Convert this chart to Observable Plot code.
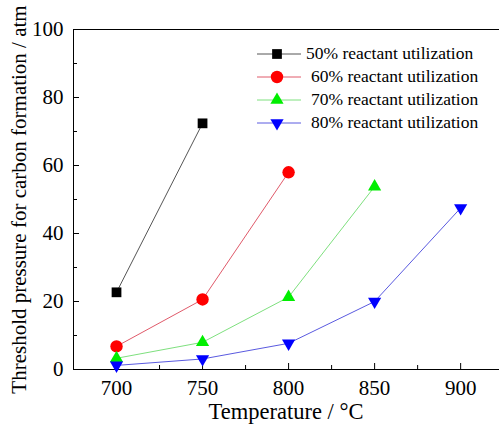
<!DOCTYPE html>
<html><head><meta charset="utf-8">
<script src="https://cdn.jsdelivr.net/npm/d3@7"></script>
<script src="https://cdn.jsdelivr.net/npm/@observablehq/plot@0.6"></script>
<style>
body{margin:0;background:#fff;font-family:'Liberation Serif';}
#wrap{position:relative;width:499px;height:425px;font-family:'Liberation Serif';}
#legend{position:absolute;left:257px;top:42px;font-size:17.5px;line-height:23px;color:#000;font-family:'Liberation Serif';}
#legend div{display:flex;align-items:center;height:23px;}
#legend svg{margin-right:5px;}
</style></head><body>
<div id="wrap"><div id="legend"></div></div>
<script>
const temps = [700, 750, 800, 850, 900];
const seriesNames = ["50% reactant utilization","60% reactant utilization","70% reactant utilization","80% reactant utilization"];
const u50 = [22.7, 72.4];
const u60 = [6.8, 20.6, 58.0];
const u70 = [3.3, 8.0, 21.3, 53.8];
const u80 = [1.2, 3.1, 7.7, 20.0, 47.5];
const markerColors = ["#000000","#ff0000","#00ee00","#0000ff"];
const lineColors = ["#555555","#e05a6a","#7ee07e","#5a5ae0"];
const xMajor = [700, 750, 800, 850, 900];
const xMinor = [675, 725, 775, 825, 875];
const yMajor = [0, 20, 40, 60, 80, 100];
const yMinor = [10, 30, 50, 70, 90];
const FONT = "Liberation Serif";

const triDown = {draw(ctx, size){
  const y = -Math.sqrt(size / (Math.sqrt(3) * 3));
  ctx.moveTo(0, -y * 2);
  ctx.lineTo(Math.sqrt(3) * y, y);
  ctx.lineTo(-Math.sqrt(3) * y, y);
  ctx.closePath();
}};
const symbols = ["square","circle","triangle",triDown];
const sizes = [5.5, 6.2, 4.9, 4.9];

const all = [u50,u60,u70,u80];
const data = all.flatMap((vals, i) => vals.map((v, j) => ({t: temps[j], p: v, s: i})));

const marks = [
  Plot.frame({anchor:"left"}),
  Plot.frame({anchor:"top"}),
  Plot.frame({anchor:"bottom"}),
  Plot.axisX({ticks: xMajor, tickSize: -6, tickPadding: 17, fontSize: 21, fontFamily: FONT, label: null}),
  Plot.axisX({ticks: [], fontSize: 22.5, fontFamily: FONT,
    label: "Temperature / \u00B0C", labelAnchor: "center", labelArrow: "none", labelOffset: 49}),
  Plot.axisX({ticks: xMinor, tickSize: -4, tickFormat: () => "", label: null}),
  Plot.axisY({ticks: yMajor, tickSize: -6, tickPadding: 16, fontSize: 21, fontFamily: FONT,
    label: "Threshold pressure for carbon formation / atm", labelAnchor: "center", labelArrow: "none", labelOffset: 62}),
  Plot.axisY({ticks: yMinor, tickSize: -4, tickFormat: () => "", label: null}),
];
all.forEach((vals, i) => {
  const d = data.filter(r => r.s === i);
  marks.push(Plot.line(d, {x: "t", y: "p", stroke: lineColors[i], strokeWidth: 1}));
});
all.forEach((vals, i) => {
  const d = data.filter(r => r.s === i);
  marks.push(Plot.dot(d, {x: "t", y: "p", symbol: () => symbols[i], r: sizes[i], fill: markerColors[i], stroke: "none"}));
});

const chart = Plot.plot({
  width: 499, height: 425,
  marginLeft: 73, marginRight: 1, marginTop: 29, marginBottom: 56,
  style: {fontFamily: FONT, fontSize: "21px", color: "#000", background: "#fff"},
  x: {domain: [675, 922]},
  y: {domain: [0, 100]},
  symbol: {type: "identity"},
  marks
});
chart.querySelectorAll("text").forEach(t => t.setAttribute("font-family", FONT));
const wrap = document.getElementById("wrap");
wrap.insertBefore(chart, wrap.firstChild);

const legend = document.getElementById("legend");
seriesNames.forEach((name, i) => {
  const row = document.createElement("div");
  const svg = d3.create("svg").attr("width", 44).attr("height", 18);
  svg.append("line").attr("x1", 0).attr("x2", 44).attr("y1", 9).attr("y2", 9).attr("stroke", lineColors[i]).attr("stroke-width", 1);
  const sz = Math.PI * sizes[i] * sizes[i];
  const sym = typeof symbols[i] === "string" ? {square: d3.symbolSquare, circle: d3.symbolCircle, triangle: d3.symbolTriangle}[symbols[i]] : symbols[i];
  svg.append("path").attr("transform", "translate(20,9)").attr("d", d3.symbol(sym, sz)()).attr("fill", markerColors[i]);
  row.appendChild(svg.node());
  const span = document.createElement("span");
  span.textContent = name;
  if (i > 0) span.style.marginLeft = "5px";
  row.appendChild(span);
  legend.appendChild(row);
});
</script>
</body></html>
